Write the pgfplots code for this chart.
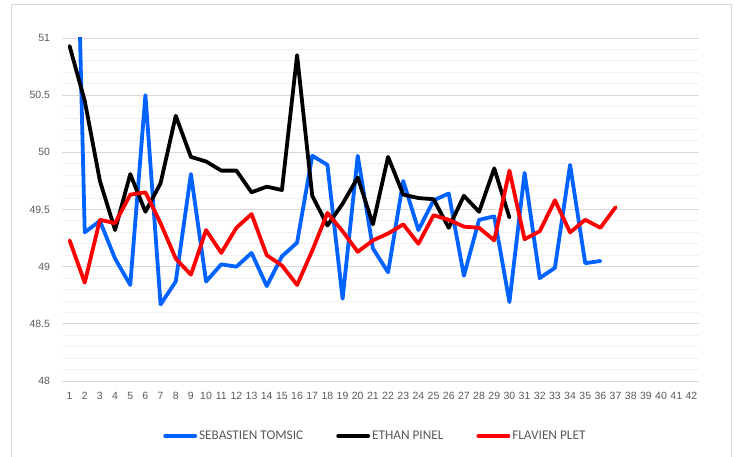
\documentclass[border=0pt]{standalone}
\usepackage{pgfplots}
\pgfplotsset{compat=1.18}
\usepackage{fontspec}
\setmainfont{Carlito}
\newfontfamily\tickfont{Liberation Sans}
\definecolor{tblue}{RGB}{0,98,255}
\definecolor{tred}{RGB}{255,0,0}
\definecolor{txtgrey}{RGB}{89,89,89}
\definecolor{majgrid}{RGB}{217,217,217}
\definecolor{mingrid}{RGB}{240,240,240}
\begin{document}
\begin{tikzpicture}[x=1pt,y=1pt]
\useasboundingbox (0,0) rectangle (734,457);
\draw[majgrid, line width=1pt] (11,-5) rectangle (731,452);
\begin{axis}[
  at={(62pt,76pt)}, anchor=south west,
  scale only axis, width=637pt, height=343pt,
  xmin=0.5, xmax=42.5, ymin=48, ymax=51,
  xtick={1,...,42},
  ytick={48,48.5,...,51},
  minor y tick num=4,
  ymajorgrids, yminorgrids,
  major grid style={majgrid, line width=0.9pt},
  minor grid style={mingrid, line width=0.9pt},
  axis line style={draw=none},
  major tick length=0pt, minor tick length=0pt,
  tick style={draw=none},
  /pgf/number format/assume math mode=true,
  yticklabel style={/pgf/number format/fixed, /pgf/number format/precision=1},
  ticklabel style={font=\tickfont\fontsize{10.5}{12}\selectfont, text=txtgrey},
  yticklabel style={xshift=-8.5pt},
  xticklabel style={yshift=-8pt},
  legend columns=3,
  legend style={draw=none, fill=none, at={(0.492,-0.16)}, anchor=center,
    font=\fontsize{13.3}{15}\selectfont, text=txtgrey,
    /tikz/every even column/.append style={column sep=31pt}},
  legend image code/.code={\draw[#1] (0pt,0pt) -- (30pt,0pt);},
  every axis plot/.append style={line width=3.8pt, line join=round, line cap=round, mark=none},
]
\addplot[tblue] coordinates {
(1,54.8) (2,49.30) (3,49.40) (4,49.07) (5,48.84) (6,50.50) (7,48.67) (8,48.87) (9,49.81) (10,48.87)
(11,49.02) (12,49.00) (13,49.12) (14,48.83) (15,49.09) (16,49.21) (17,49.97) (18,49.89) (19,48.72) (20,49.97)
(21,49.16) (22,48.95) (23,49.75) (24,49.32) (25,49.58) (26,49.64) (27,48.92) (28,49.41) (29,49.44) (30,48.69)
(31,49.82) (32,48.90) (33,48.99) (34,49.89) (35,49.03) (36,49.05)
};
\addlegendentry{SEBASTIEN TOMSIC}
\addplot[black] coordinates {
(1,50.93) (2,50.45) (3,49.75) (4,49.32) (5,49.81) (6,49.48) (7,49.73) (8,50.32) (9,49.96) (10,49.92)
(11,49.84) (12,49.84) (13,49.65) (14,49.70) (15,49.67) (16,50.85) (17,49.62) (18,49.36) (19,49.55) (20,49.78)
(21,49.37) (22,49.96) (23,49.63) (24,49.60) (25,49.59) (26,49.34) (27,49.62) (28,49.48) (29,49.86) (30,49.43)
};
\addlegendentry{ETHAN PINEL}
\addplot[tred] coordinates {
(1,49.23) (2,48.86) (3,49.41) (4,49.38) (5,49.63) (6,49.65) (7,49.38) (8,49.07) (9,48.93) (10,49.32)
(11,49.12) (12,49.34) (13,49.46) (14,49.10) (15,49.01) (16,48.84) (17,49.14) (18,49.47) (19,49.31) (20,49.13)
(21,49.23) (22,49.29) (23,49.37) (24,49.20) (25,49.45) (26,49.41) (27,49.35) (28,49.34) (29,49.23) (30,49.84)
(31,49.24) (32,49.31) (33,49.58) (34,49.30) (35,49.41) (36,49.34) (37,49.52)
};
\addlegendentry{FLAVIEN PLET}
\end{axis}
\end{tikzpicture}
\end{document}
